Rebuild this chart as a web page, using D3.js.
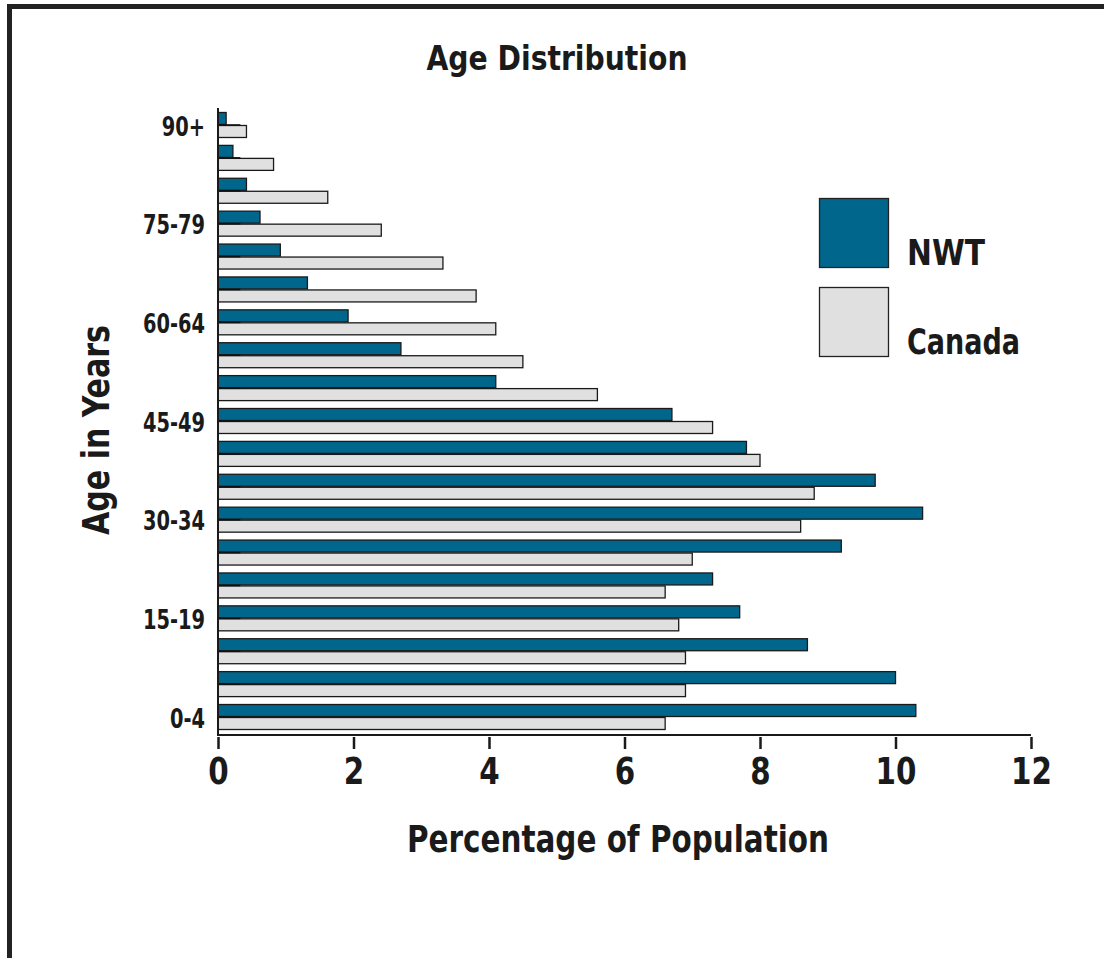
<!DOCTYPE html>
<html><head><meta charset="utf-8">
<script src="https://cdn.jsdelivr.net/npm/d3@7/dist/d3.min.js"></script>
<style>
html,body{margin:0;padding:0;background:#fff;}
text{font-family:'Liberation Sans Narrow','DejaVu Sans Condensed','Roboto Condensed','Arial Narrow',sans-serif;font-weight:bold;fill:#1a1a1a;}
</style></head>
<body>
<svg id="chart" width="1104" height="958"></svg>
<script>
const ageGroups = ["0-4","5-9","10-14","15-19","20-24","25-29","30-34","35-39","40-44","45-49","50-54","55-59","60-64","65-69","70-74","75-79","80-84","85-89","90+"];
const nwtValues = [10.3,10.0,8.7,7.7,7.3,9.2,10.4,9.7,7.8,6.7,4.1,2.7,1.92,1.32,0.92,0.62,0.42,0.22,0.12];
const canadaValues = [6.6,6.9,6.9,6.8,6.6,7.0,8.6,8.8,8.0,7.3,5.6,4.5,4.1,3.81,3.32,2.41,1.62,0.82,0.42];
const seriesNames = ["NWT","Canada"];
const xTicks = [0,2,4,6,8,10,12];
const yTickLabels = ["0-4","15-19","30-34","45-49","60-64","75-79","90+"];

const colors = {NWT:"#00668c", Canada:"#e0e0e0"};
const svg = d3.select("#chart");

function fit(sel, w){ sel.attr("textLength", w).attr("lengthAdjust","spacingAndGlyphs"); return sel; }

// frame
svg.append("path").attr("d","M9.5,958 V6.5 H1104").attr("fill","none").attr("stroke","#222").attr("stroke-width",5);

const x = d3.scaleLinear().domain([0,12]).range([218,1031]);
const y = d3.scaleBand().domain(ageGroups.slice().reverse()).range([112,730]).paddingInner(0.21).paddingOuter(0);
const ys = d3.scaleBand().domain(seriesNames).range([0,y.bandwidth()]);

const data = ageGroups.map((g,i)=>({g, NWT:nwtValues[i], Canada:canadaValues[i]}));

const groups = svg.append("g").selectAll("g").data(data).join("g")
  .attr("transform", d=>`translate(0,${y(d.g)})`);

groups.selectAll("rect").data(d=>seriesNames.map(s=>({s, v:d[s]}))).join("rect")
  .attr("x", x(0))
  .attr("y", d=>ys(d.s)+0.5)
  .attr("width", d=>x(d.v)-x(0))
  .attr("height", ys.bandwidth()-1)
  .attr("fill", d=>colors[d.s])
  .attr("stroke", "#1a1a1a")
  .attr("stroke-width", 1.3);

// small dark artifact segment at series boundary
groups.append("line")
  .attr("x1", x(0)).attr("x2", x(0.33))
  .attr("y1", ys("Canada")).attr("y2", ys("Canada"))
  .attr("stroke","#111").attr("stroke-width",1.6);

// y axis line
svg.append("line").attr("x1",x(0)).attr("x2",x(0)).attr("y1",108).attr("y2",736)
  .attr("stroke","#1a1a1a").attr("stroke-width",2);

// x axis
const xAxis = svg.append("g").attr("transform","translate(0,735)")
  .call(d3.axisBottom(x).tickValues(xTicks).tickSize(14).tickPadding(8).tickFormat(d3.format("d")));
xAxis.select(".domain").attr("stroke","#1a1a1a").attr("stroke-width",2).attr("d",`M${x(0)},0H${x(12)}`);
xAxis.selectAll(".tick line").attr("stroke","#1a1a1a").attr("stroke-width",2.5).attr("y1",2);
xAxis.selectAll(".tick text").attr("font-size",38).attr("fill","#1a1a1a")
  .attr("font-family",null).attr("dy","0.71em").attr("transform","scale(0.86,1)");

// y tick labels
svg.append("g").selectAll("text").data(yTickLabels).join("text")
  .attr("transform",d=>`translate(205,${y(d)+y.bandwidth()/2+3}) scale(0.83,1)`)
  .attr("text-anchor","end").attr("dominant-baseline","middle")
  .attr("font-size",26).text(d=>d);

// title
fit(svg.append("text").attr("x",557).attr("y",70).attr("text-anchor","middle").attr("font-size",34).text("Age Distribution"), 261);
// x title
fit(svg.append("text").attr("x",618).attr("y",852).attr("text-anchor","middle").attr("font-size",38).text("Percentage of Population"), 422);
// y title
fit(svg.append("text").attr("transform","translate(109,430) rotate(-90)").attr("text-anchor","middle").attr("font-size",37).text("Age in Years"), 210);

// legend
const legend = svg.append("g");
const legY = {NWT:198, Canada:287};
const legW = {NWT:78, Canada:113};
seriesNames.forEach(s=>{
  legend.append("rect").attr("x",819.5).attr("y",legY[s]+0.5).attr("width",69).attr("height",69)
    .attr("fill",colors[s]).attr("stroke","#222").attr("stroke-width",1.3);
  fit(legend.append("text").attr("x",907).attr("y",legY[s]+67).attr("font-size",36).text(s), legW[s]);
});
</script>
</body></html>
